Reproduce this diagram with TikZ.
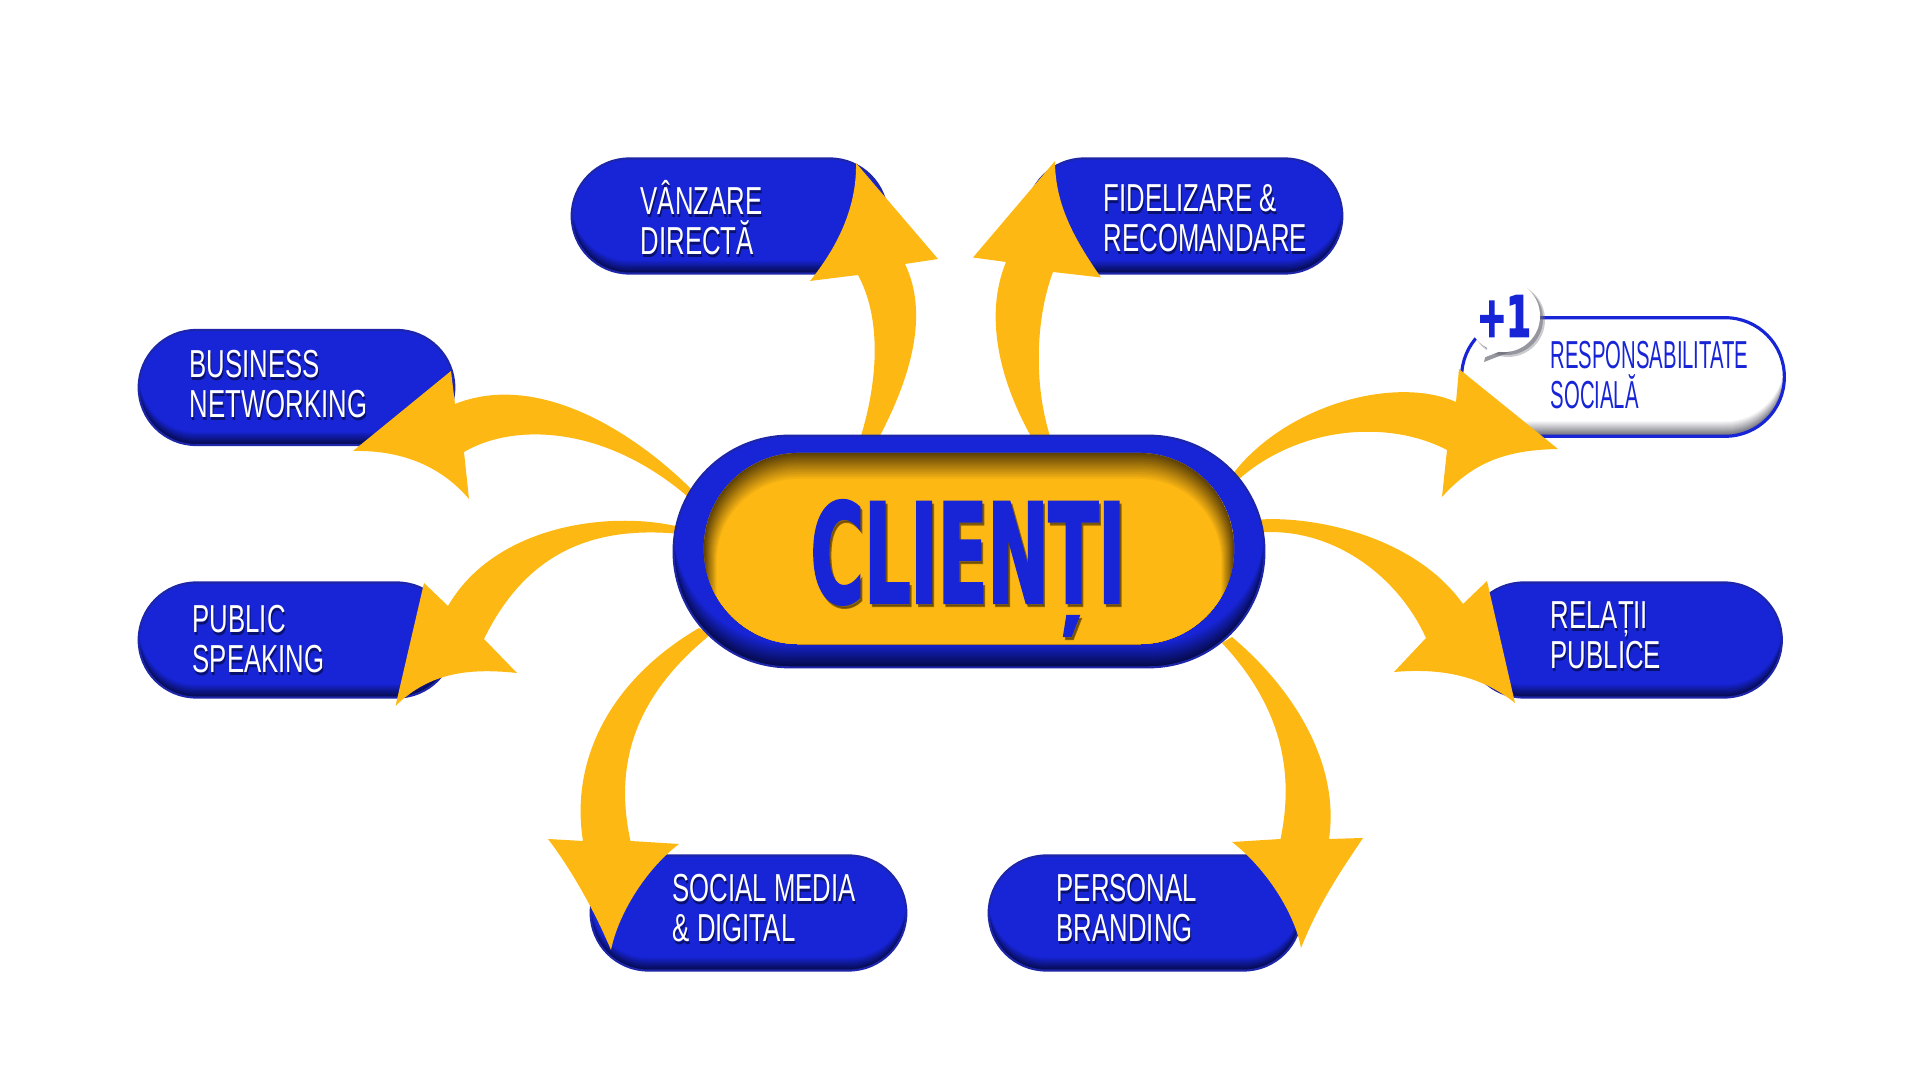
\documentclass[tikz,border=0pt]{standalone}
\usepackage{fontspec}
\setmainfont{Liberation Sans}
\newfontfamily\lblfont[FakeStretch=0.66]{Liberation Sans}
\newfontfamily\slimfont[FakeStretch=0.52]{Liberation Sans}
\newfontfamily\bigfont[FakeStretch=0.525,FakeBold=1.5]{DejaVu Sans Bold}
\newfontfamily\plusfont[FakeStretch=0.62,FakeBold=3]{DejaVu Sans Bold}
\definecolor{royal}{HTML}{1725D6}
\definecolor{gold}{HTML}{FDB813}
\definecolor{navy}{HTML}{050A4A}
\definecolor{rimblue}{HTML}{1D25A8}
\definecolor{umber}{HTML}{5F4206}
\definecolor{ash}{HTML}{6C6C78}
% stacked layers that give a soft inner shadow along the bottom edge
\newcommand{\bottomshade}[4]{%
  \foreach \k in {0,...,15}{%
    \pgfmathsetmacro\mixv{\k*100/15}%
    \pgfmathsetmacro\shv{\k*#2/15}%
    \fill[#3!\mixv!#4,rounded corners=#1cm]
      ([yshift=\shv cm]path picture bounding box.south west) rectangle
      ([yshift=\shv cm+1cm]path picture bounding box.north east);
  }}
% inner shadow along top and sides
\newcommand{\topshade}[4]{%
  \foreach \k in {0,...,15}{%
    \pgfmathsetmacro\mixv{\k*100/15}%
    \pgfmathsetmacro\shv{\k*#2/15}%
    \pgfmathsetmacro\sdv{\k*#2/30}%
    \pgfmathsetmacro\rv{#1-\sdv}%
    \fill[#3!\mixv!#4,rounded corners=\rv cm]
      ([xshift=\sdv cm,yshift=-1cm]path picture bounding box.south west) rectangle
      ([xshift=-\sdv cm,yshift=-\shv cm]path picture bounding box.north east);
  }}
\tikzset{
  pillbase/.style={rectangle,inner sep=0pt,minimum height=1.15cm,minimum width=3.155cm,rounded corners=.575cm},
  bluepill/.style={pillbase,draw=rimblue,line width=.6pt,fill=royal,
    path picture={\bottomshade{.575}{.13}{royal}{navy}}},
  whitepill/.style={pillbase,draw=royal,line width=.9pt,fill=white,
    path picture={\bottomshade{.59}{.15}{white}{ash}}},
  lbl/.style={anchor=base west,inner sep=0pt,align=left,text=white,
    font=\lblfont\fontsize{11.1pt}{11.4pt}\selectfont},
  lblsh/.style={lbl,text=navy,text opacity=.75},
  lblblue/.style={lbl,text=royal,font=\slimfont\fontsize{11.1pt}{11.4pt}\selectfont},
  burst/.style={fill=gold},
}
\begin{document}
\begin{tikzpicture}[x=0.01cm,y=-0.01cm]
\useasboundingbox (0,0) rectangle (1920,1080);
% outer pills
\node[bluepill] (vanzare) at (729.5,216) {};
\node[bluepill] (fidel) at (1184.5,216) {};
\node[bluepill] (business) at (296.5,387.5) {};
\node[bluepill] (public) at (296.5,640) {};
\node[whitepill,minimum width=3.225cm,minimum height=1.185cm,rounded corners=.59cm] (respons) at (1623,377) {};
\node[bluepill] (relatii) at (1624,640) {};
\node[bluepill] (social) at (748.5,913) {};
\node[bluepill,minimum width=3.125cm] (personal) at (1145,913) {};
% labels
\node[lblsh] (t1s) at (641,258) {VÂNZARE\\DIRECTĂ};
\node[lbl] (t1) at (640,255) {VÂNZARE\\DIRECTĂ};
\node[lblsh] (t2s) at (1104,255) {FIDELIZARE \&\\RECOMANDARE};
\node[lbl] (t2) at (1103,252) {FIDELIZARE \&\\RECOMANDARE};
\node[lblsh] (t3s) at (190,421) {BUSINESS\\NETWORKING};
\node[lbl] (t3) at (189,418) {BUSINESS\\NETWORKING};
\node[lblsh] (t4s) at (193,676) {PUBLIC\\SPEAKING};
\node[lbl] (t4) at (192,673) {PUBLIC\\SPEAKING};
\node[lblblue] (t5) at (1550,409) {RESPONSABILITATE\\SOCIALĂ};
\node[lblsh] (t6s) at (1551,672) {RELAȚII\\PUBLICE};
\node[lbl] (t6) at (1550,669) {RELAȚII\\PUBLICE};
\node[lblsh] (t7s) at (673,945) {SOCIAL MEDIA\\\& DIGITAL};
\node[lbl] (t7) at (672,942) {SOCIAL MEDIA\\\& DIGITAL};
\node[lblsh] (t8s) at (1057,945) {PERSONAL\\BRANDING};
\node[lbl] (t8) at (1056,942) {PERSONAL\\BRANDING};
\coordinate (hub) at (969,551.5);
% arrow ends
\coordinate (vt) at ([shift={(126.5,-53)}]vanzare.center);
\coordinate (ft) at ([shift={(-129.5,-55)}]fidel.center);
\coordinate (bt) at ([shift={(56.5,63.5)}]business.center);
\coordinate (pt) at ([shift={(99,66)}]public.center);
\coordinate (rt) at ([shift={(-65,72)}]respons.center);
\coordinate (et) at ([shift={(-109,63)}]relatii.center);
\coordinate (st) at ([shift={(-137.5,37)}]social.center);
\coordinate (nt) at ([shift={(156,35)}]personal.center);
% arrow starts
\coordinate (va) at ([shift={(-94,-106.5)}]hub);
\coordinate (vb) at ([shift={(-111,-106.5)}]hub);
\coordinate (fa) at ([shift={(67,-106.5)}]hub);
\coordinate (fb) at ([shift={(84,-106.5)}]hub);
\coordinate (ba) at ([shift={(-269,-53.5)}]hub);
\coordinate (bb) at ([shift={(-273,-47.5)}]hub);
\coordinate (pa) at ([shift={(-289,-24.5)}]hub);
\coordinate (pb) at ([shift={(-289,-17.5)}]hub);
\coordinate (ra) at ([shift={(263,-76.5)}]hub);
\coordinate (rb) at ([shift={(269,-71.5)}]hub);
\coordinate (ea) at ([shift={(286,-31.5)}]hub);
\coordinate (eb) at ([shift={(286,-18.5)}]hub);
\coordinate (sa) at ([shift={(-270,76.5)}]hub);
\coordinate (sb) at ([shift={(-259,83.5)}]hub);
\coordinate (na) at ([shift={(263,85.5)}]hub);
\coordinate (nb) at ([shift={(253,91.5)}]hub);
% arrows
\fill[burst] (va) .. controls (905,390) and (932,320) .. (905,264) -- (938,259) -- (vt)
  .. controls (857,210) and (835,250) .. (810,281) -- (858,275) .. controls (885,325) and (875,395) .. (vb) -- cycle;
\fill[burst] (fa) .. controls (1003,390) and (982,320) .. (1006,262) -- (973,257.5) -- (ft)
  .. controls (1055,205) and (1075,240) .. (1101,277.5) -- (1053,272) .. controls (1035,320) and (1033,390) .. (fb) -- cycle;
\fill[burst] (ba) .. controls (640,435) and (540,370) .. (455,404) -- (451,371) -- (bt)
  .. controls (400,450) and (440,465) .. (469,499) -- (464,452) .. controls (515,422) and (610,425) .. (bb) -- cycle;
\fill[burst] (pa) .. controls (610,510) and (495,525) .. (448,606) -- (424,583) -- (pt)
  .. controls (430,672) and (470,668) .. (517,673) -- (484,639) .. controls (525,555) and (590,525) .. (pb) -- cycle;
\fill[burst] (ra) .. controls (1285,405) and (1395,375) .. (1456,402) -- (1459,369) -- (rt)
  .. controls (1510,450) and (1475,460) .. (1442,497) -- (1447,450) .. controls (1390,420) and (1300,425) .. (rb) -- cycle;
\fill[burst] (ea) .. controls (1300,515) and (1410,530) .. (1463,604) -- (1487,581) -- (et)
  .. controls (1480,675) and (1440,668) .. (1394,672) -- (1426,638) .. controls (1395,570) and (1325,525) .. (eb) -- cycle;
\fill[burst] (sa) .. controls (610,680) and (570,760) .. (583,841) -- (548,839) .. controls (568,865) and (592,905) .. (st)
  .. controls (618,915) and (645,870) .. (679,844) -- (630.5,841) .. controls (615,770) and (630,700) .. (sb) -- cycle;
\fill[burst] (na) .. controls (1295,690) and (1340,765) .. (1329,839) -- (1363,838) .. controls (1345,865) and (1320,900) .. (nt)
  .. controls (1295,915) and (1268,870) .. (1232,842) -- (1280.5,839) .. controls (1295,770) and (1280,705) .. (nb) -- cycle;
% hub
\node[rectangle,inner sep=0pt,minimum width=5.905cm,minimum height=2.315cm,rounded corners=1.155cm,
  fill=royal,draw=rimblue,line width=.6pt,
  path picture={\bottomshade{1.155}{.24}{royal}{navy}}] (clienti) at (hub) {};
\node[rectangle,inner sep=0pt,minimum width=5.30cm,minimum height=1.91cm,rounded corners=.95cm,
  fill=gold,path picture={\topshade{.95}{.26}{gold}{umber}}] (core) at (969,548.5) {};
\node[anchor=base,inner sep=0pt,text=umber,text opacity=.7,font=\bigfont\fontsize{39.5pt}{40pt}\selectfont] (titleshadow) at (970,606) {CLIENȚI};
\node[anchor=base,inner sep=0pt,text=royal,font=\bigfont\fontsize{39.5pt}{40pt}\selectfont] (title) at (968,603) {CLIENȚI};
% +1 bubble
\fill[ash,opacity=.35] (1508,320) circle (37) ;
\fill[ash,opacity=.55] (1507,319) circle (36);
\fill[ash,opacity=.7] (1488,345) -- (1484,362) -- (1510,352) -- cycle;
\node[circle,fill=white,inner sep=0pt,minimum size=.72cm,text=royal,font=\plusfont\fontsize{16pt}{16pt}\selectfont] (plusone) at (1504,316) {+1};
\fill[white] (1490,342) -- (1483,358) -- (1506,349) -- cycle;
\end{tikzpicture}
\end{document}
